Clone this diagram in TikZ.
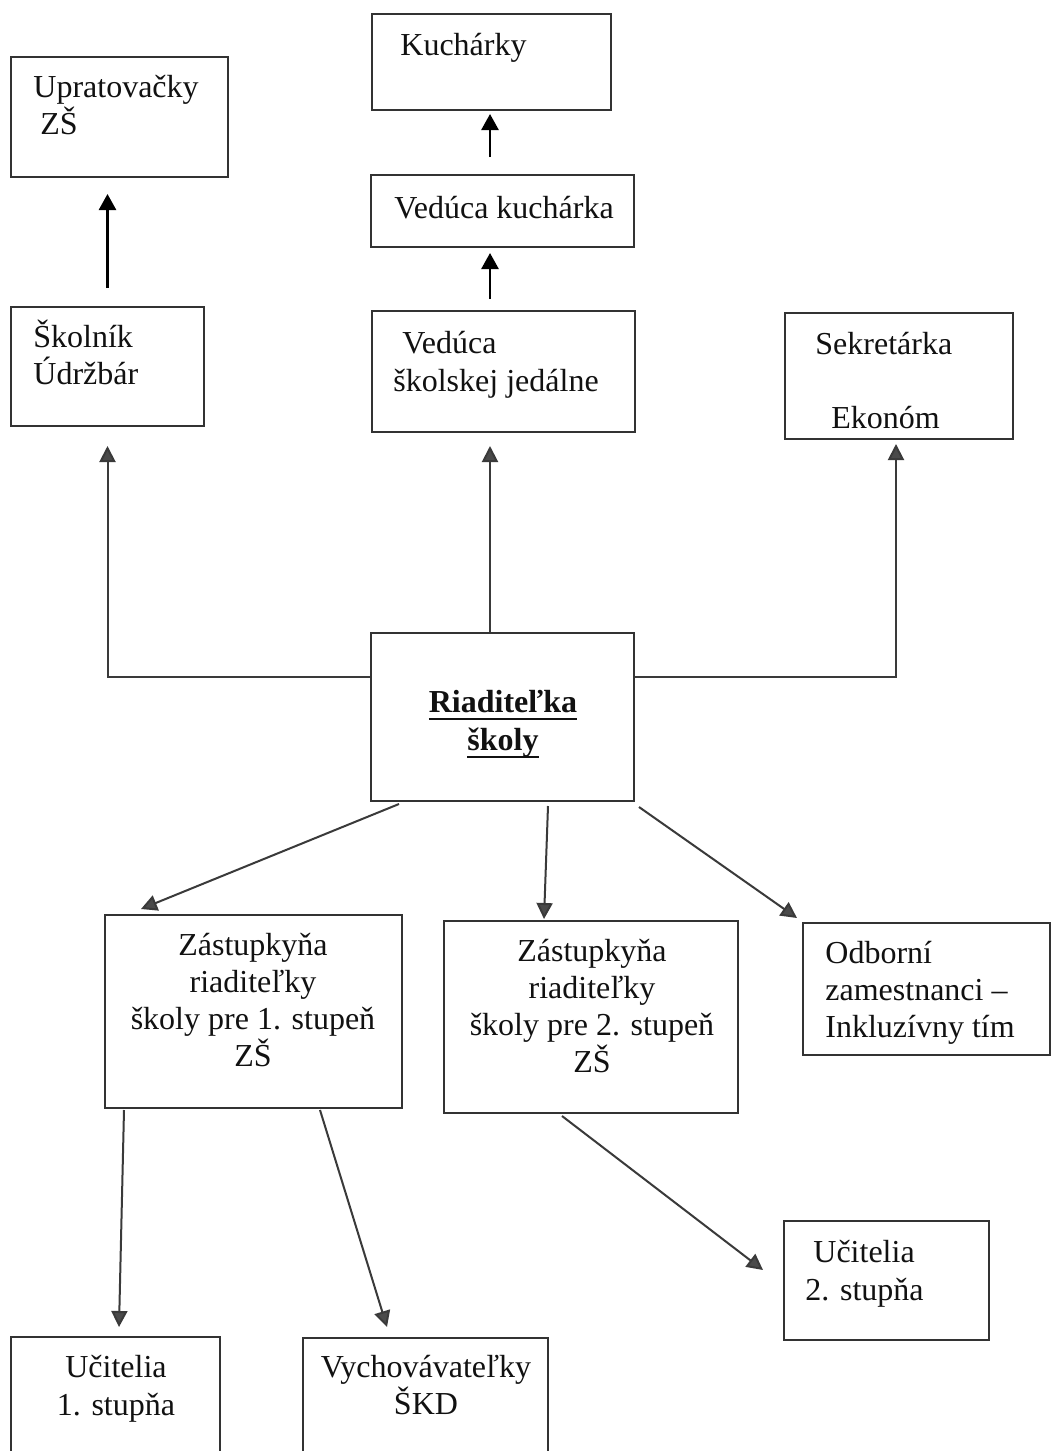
\documentclass[tikz,border=0pt]{standalone}
\usepackage{fontspec}
\setmainfont{Liberation Serif}
\usetikzlibrary{arrows.meta,fit,calc}
\definecolor{boxc}{HTML}{333333}
\definecolor{txtc}{HTML}{111111}
\definecolor{arrc}{HTML}{3A3A3A}
\definecolor{headc}{HTML}{4A4A4A}
\newcommand{\cl}[1]{\hbox to 0pt{\hss#1\hss}}
\newcommand{\myul}[1]{\setbox0\hbox{#1}\rlap{\rule[-4.2pt]{\wd0}{1.4pt}}\box0}
\begin{document}
\begin{tikzpicture}[x=0.5pt,y=-0.5pt,
  box/.style={draw=boxc, line width=1pt, inner sep=0pt},
  txt/.style={inner sep=0pt, text=txtc, font=\fontsize{16pt}{18.5pt}\selectfont},
  uparr/.style={draw=black, line width=1.3pt, -{Triangle[width=8.5pt,length=8pt]}},
  garr/.style={draw=arrc, line width=1pt, -{Triangle[width=8pt,length=8pt,fill=headc]}}]
\useasboundingbox (0,0) rectangle (1051,1451);
\clip (0,0) rectangle (1051,1451);
\fill[white] (0,0) rectangle (1051,1451);

% boxes
\node[box, fit={(11,57) (228,177)}] (uprat) {};
\node[box, fit={(372,14) (611,110)}] (kuch) {};
\node[box, fit={(371,175) (634,247)}] (vk) {};
\node[box, fit={(11,307) (204,426)}] (skol) {};
\node[box, fit={(372,311) (635,432)}] (vsj) {};
\node[box, fit={(785,313) (1013,439)}] (sekr) {};
\node[box, fit={(371,633) (634,801)}] (riad) {};
\node[box, fit={(105,915) (402,1108)}] (zas1) {};
\node[box, fit={(444,921) (738,1113)}] (zas2) {};
\node[box, fit={(803,923) (1050,1055)}] (odb) {};
\node[box, fit={(784,1221) (989,1340)}] (uc2) {};
\node[box, fit={(11,1337) (220,1480)}] (uc1) {};
\node[box, fit={(303,1338) (548,1480)}] (vych) {};

% texts
\node[txt, anchor=base west] at (400,55) {Kuchárky};
\node[txt, anchor=base west] at (33,97) {\vtop{\baselineskip=18.5pt\hbox{Upratovačky}\hbox{\hspace{3.5pt}ZŠ}}};
\node[txt, anchor=base] at (504,218) {Vedúca kuchárka};
\node[txt, anchor=base west] at (33,347) {\vtop{\baselineskip=18.8pt\hbox{Školník}\hbox{Údržbár}}};
\node[txt, anchor=base west] at (393,353) {\vtop{\baselineskip=19pt\hbox{\hspace{4.5pt}Vedúca}\hbox{školskej jedálne}}};
\node[txt, anchor=base west] at (815,354) {\vtop{\baselineskip=37.2pt\hbox{Sekretárka}\hbox{\hspace{8pt}Ekonóm}}};
\node[txt, anchor=base] at (503,712) {\vtop{\baselineskip=19pt\cl{\myul{\textbf{Riaditeľka}}}\cl{\myul{\textbf{školy}}}}};
\node[txt, anchor=base] at (253,955) {\vtop{\baselineskip=18.65pt\cl{Zástupkyňa}\cl{riaditeľky}\cl{školy pre 1. stupeň}\cl{ZŠ}}};
\node[txt, anchor=base] at (592,961) {\vtop{\baselineskip=18.65pt\cl{Zástupkyňa}\cl{riaditeľky}\cl{školy pre 2. stupeň}\cl{ZŠ}}};
\node[txt, anchor=base west] at (825,963) {\vtop{\baselineskip=18.5pt\hbox{Odborní}\hbox{zamestnanci –}\hbox{Inkluzívny tím}}};
\node[txt, anchor=base west] at (805,1262) {\vtop{\baselineskip=19pt\hbox{\hspace{4pt}Učitelia}\hbox{2. stupňa}}};
\node[txt, anchor=base] at (116,1377) {\vtop{\baselineskip=19pt\cl{Učitelia}\cl{1. stupňa}}};
\node[txt, anchor=base] at (426,1377) {\vtop{\baselineskip=18.5pt\cl{Vychovávateľky}\cl{ŠKD}}};

% upper connectors
\draw[uparr] ([yshift=9pt]skol.north) -- ([yshift=-8pt]skol.north |- uprat.south);
\draw[uparr] ($(vsj.north west)+(119,-11)$) -- ($(vk.south west)+(120,5)$);
\draw[uparr] ($(vk.north west)+(120,-17)$) -- ($(kuch.south west)+(119,3)$);

% from director upwards
\draw[garr] ($(riad.north west)+(0,45)$) -| ([yshift=-9.5pt]skol.south);
\draw[garr] ($(riad.north west)+(120,0)$) -- ($(vsj.south west)+(119,13)$);
\draw[garr] ($(riad.north east)+(0,45)$) -| ($(sekr.south west)+(112,4)$);

% from director downwards
\draw[garr] ($(riad.south west)+(29,2)$) -- ($(zas1.north west)+(37,-5)$);
\draw[garr] ($(riad.south west)+(178,4)$) -- ($(zas2.north west)+(101,-1)$);
\draw[garr] ($(riad.south east)+(4,5)$) -- ($(odb.north west)+(-5,-4)$);

% from deputies
\draw[garr] ($(zas1.south west)+(20,1)$) -- ($(uc1.north west)+(109,-9)$);
\draw[garr] ($(zas1.south west)+(216,1)$) -- ($(vych.north west)+(85,-10)$);
\draw[garr] ($(zas2.south west)+(119,2)$) -- ($(uc2.north west)+(-20,50)$);
\end{tikzpicture}
\end{document}
